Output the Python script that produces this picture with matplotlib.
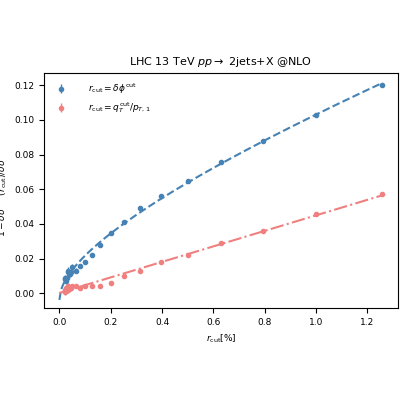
import numpy as np
import matplotlib
matplotlib.use("Agg")
import matplotlib.pyplot as plt

x = [1.259, 1.0, 0.794, 0.631, 0.5, 0.398, 0.316, 0.251, 0.2, 0.158, 0.126, 0.1,
     0.079, 0.063, 0.05, 0.045, 0.04, 0.035, 0.032, 0.028, 0.025, 0.022, 0.02]
blue = [0.120, 0.103, 0.088, 0.076, 0.065, 0.056, 0.049, 0.041, 0.035, 0.028, 0.022, 0.018,
        0.016, 0.013, 0.015, 0.012, 0.011, 0.013, 0.012, 0.009, 0.007, 0.009, 0.008]
blue_err = [0.0005]*12 + [0.001, 0.0015, 0.002, 0.0015, 0.0015, 0.002, 0.0015, 0.0015, 0.0015, 0.0015, 0.0015]
red = [0.057, 0.046, 0.036, 0.029, 0.022, 0.018, 0.013, 0.010, 0.006, 0.004, 0.004, 0.004,
       0.003, 0.004, 0.004, 0.003, 0.003, 0.004, 0.002, 0.003, 0.003, 0.001, 0.002]
red_err = [0.0005]*12 + [0.001, 0.001, 0.0015, 0.0015, 0.0015, 0.002, 0.002, 0.002, 0.002, 0.002, 0.0015]

cb, cr = "#4682b4", "#f08080"
fig = plt.figure(figsize=(4, 4), dpi=100)
ax = fig.add_axes([0.11, 0.23, 0.885, 0.587])
ax.errorbar(x, blue, yerr=blue_err, fmt="o", ms=3, color=cb, elinewidth=1,
            label=r"$r_{\rm cut}=\delta\phi^{\rm cut}$")
ax.errorbar(x, red, yerr=red_err, fmt="o", ms=3, color=cr, elinewidth=1,
            label=r"$r_{\rm cut}=q_T^{\rm cut}/p_{T,1}$")
xa = np.array(x)
A = np.vstack([np.ones_like(xa), np.sqrt(xa), xa]).T
cfb = np.linalg.lstsq(A, np.array(blue), rcond=None)[0]
xs = np.linspace(0, 1.26, 200)
pr = np.polyfit(x, red, 1)
ax.plot(xs, cfb[0] + cfb[1]*np.sqrt(xs) + cfb[2]*xs, "--", color=cb, lw=1.5)
ax.plot(xs, np.polyval(pr, xs), "-.", color=cr, lw=1.5)
ax.set_xlim(-0.06, 1.32)
ax.set_ylim(-0.0085, 0.127)
ax.set_xticks([0, 0.2, 0.4, 0.6, 0.8, 1.0, 1.2])
ax.set_yticks([0, 0.02, 0.04, 0.06, 0.08, 0.10, 0.12])
ax.tick_params(labelsize=6.5)
ax.set_xlabel(r"$r_{\rm cut} [\%]$", fontsize=6.5)
ax.set_ylabel(r"$1-\delta\sigma^{\rm NLO}(r_{\rm cut})/\delta\sigma^{\rm NLO}$", fontsize=6.5)
ax.set_title(r"LHC 13 TeV $pp\to$ 2jets+X @NLO", fontsize=8)
ax.legend(frameon=False, fontsize=6.5, loc="upper left", handletextpad=2)
fig.savefig("out.png")
